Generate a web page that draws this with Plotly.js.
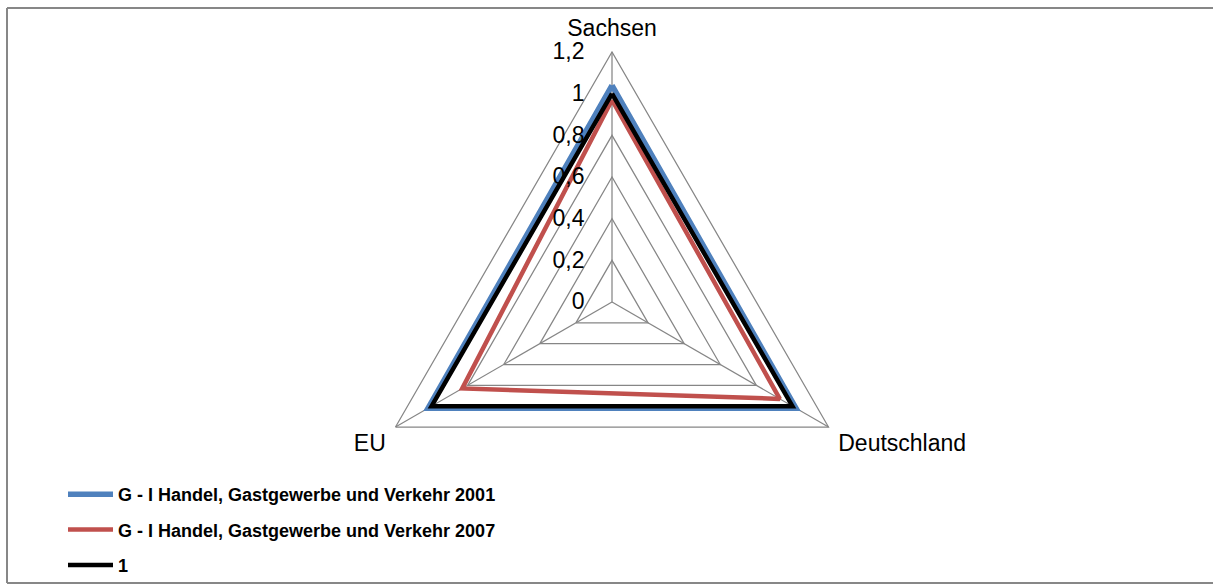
<!DOCTYPE html>
<html>
<head>
<meta charset="utf-8">
<script src="https://cdn.plot.ly/plotly-3.0.1.min.js"></script>
<style>html,body{margin:0;padding:0;background:#fff;}#chart{width:1213px;height:585px;}</style>
</head>
<body>
<div id="chart"></div>
<script>
var categories = ["Sachsen", "Deutschland", "EU"];
var seriesNames = ["G - I Handel, Gastgewerbe und Verkehr 2001", "G - I Handel, Gastgewerbe und Verkehr 2007", "1"];
var values2001 = [1.04, 1.02, 1.02];
var values2007 = [0.97, 0.93, 0.83];
var valuesOne = [1, 1, 1];
var radialTicks = [0, 0.2, 0.4, 0.6, 0.8, 1, 1.2];

function closed(a) { return a.concat([a[0]]); }

var colors = ["#4F81BD", "#C0504D", "#000000"];
var widths = [5.5, 4.5, 4.5];
var allValues = [values2001, values2007, valuesOne];

var traces = allValues.map(function (v, i) {
  return {
    type: "scatterpolar",
    mode: "lines",
    r: closed(v),
    theta: closed(categories),
    name: seriesNames[i],
    legendgroup: "g" + i,
    line: { color: colors[i], width: widths[i] },
    hoverinfo: "r+theta"
  };
});

var W = 1213, H = 585;
var cx = 612, cy = 302, R = 250;
var border = { color: "#878787", width: 2 };
var bx0 = 7 / W, by0 = 2 / H, by1 = 1 - 8 / H;

var layout = {
  width: W, height: H,
  margin: { l: 0, r: 0, t: 0, b: 0, autoexpand: false },
  paper_bgcolor: "#ffffff",
  separators: ", ",
  font: { family: "Liberation Sans, Arial, sans-serif", size: 23, color: "#000" },
  showlegend: true,
  legend: {
    x: 63 / W, xanchor: "left",
    y: 1 - 476 / H, yanchor: "top",
    orientation: "v",
    traceorder: "grouped",
    tracegroupgap: 9,
    itemwidth: 45,
    font: { family: "Liberation Sans, Arial, sans-serif", size: 18, color: "#000", weight: "bold" },
    bgcolor: "rgba(0,0,0,0)"
  },
  polar: {
    domain: { x: [(cx - R) / W, (cx + R) / W], y: [(H - cy - R) / H, (H - cy + R) / H] },
    gridshape: "linear",
    bgcolor: "rgba(0,0,0,0)",
    radialaxis: {
      range: [0, 1.2],
      tickvals: radialTicks,
      angle: 90,
      tickangle: 90,
      side: "counterclockwise",
      showline: false,
      ticks: "outside",
      ticklen: 19,
      tickcolor: "rgba(0,0,0,0)",
      gridcolor: "#868686",
      gridwidth: 1.25,
      tickfont: { size: 23, color: "#000" }
    },
    angularaxis: {
      rotation: 90,
      direction: "clockwise",
      showline: true,
      linecolor: "#868686",
      linewidth: 1.25,
      gridcolor: "#868686",
      gridwidth: 1.25,
      ticks: "outside",
      ticklen: 6,
      tickcolor: "rgba(0,0,0,0)",
      tickfont: { size: 23, color: "#000" }
    }
  },
  shapes: [
    { type: "line", xref: "paper", yref: "paper", x0: bx0, x1: 1.2, y0: by1, y1: by1, line: border },
    { type: "line", xref: "paper", yref: "paper", x0: bx0, x1: 1.2, y0: by0, y1: by0, line: border },
    { type: "line", xref: "paper", yref: "paper", x0: bx0, x1: bx0, y0: by0, y1: by1, line: border }
  ]
};

Plotly.newPlot("chart", traces, layout, { displayModeBar: false, staticPlot: true });
</script>
</body>
</html>
